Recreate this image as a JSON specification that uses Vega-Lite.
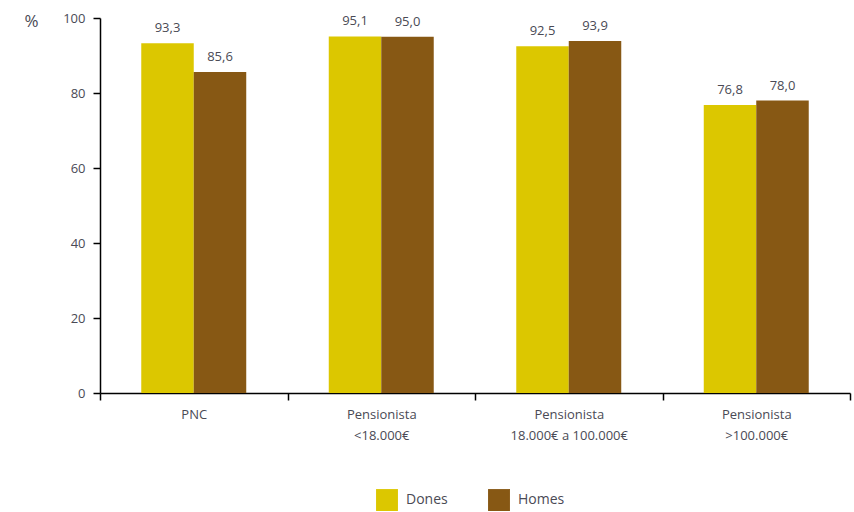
{
  "$schema": "https://vega.github.io/schema/vega-lite/v6.json",
  "width": 750,
  "height": 375,
  "autosize": {"type": "none"},
  "padding": {"left": 100, "top": 18, "right": 4, "bottom": 119},
  "background": "white",
  "config": {
    "view": {"stroke": null},
    "font": "Open Sans",
    "locale": {"number": {"decimal": ",", "thousands": ".", "grouping": [3], "currency": ["", "€"]}}
  },
  "data": {
    "values": [
      {"cat": "PNC", "sexe": "Dones", "valor": 93.3},
      {"cat": "PNC", "sexe": "Homes", "valor": 85.6},
      {"cat": "Pensionista|<18.000€", "sexe": "Dones", "valor": 95.1},
      {"cat": "Pensionista|<18.000€", "sexe": "Homes", "valor": 95.0},
      {"cat": "Pensionista|18.000€ a 100.000€", "sexe": "Dones", "valor": 92.5},
      {"cat": "Pensionista|18.000€ a 100.000€", "sexe": "Homes", "valor": 93.9},
      {"cat": "Pensionista|>100.000€", "sexe": "Dones", "valor": 76.8},
      {"cat": "Pensionista|>100.000€", "sexe": "Homes", "valor": 78.0}
    ]
  },
  "encoding": {
    "x": {
      "field": "cat", "type": "nominal", "sort": null,
      "scale": {"paddingInner": 0, "paddingOuter": 0},
      "axis": {
        "title": null, "labelAngle": 0, "domainColor": "#000", "domainWidth": 1.5,
        "tickColor": "#000", "tickWidth": 1.5, "tickSize": 7, "tickBand": "extent",
        "labelExpr": "split(datum.label, '|')", "labelFontSize": 13, "labelColor": "#4a4a55",
        "labelPadding": 8, "labelLineHeight": 21, "labelBaseline": "top"
      }
    },
    "xOffset": {"field": "sexe", "type": "nominal", "scale": {"paddingInner": 0, "paddingOuter": 0.786}},
    "y": {
      "field": "valor", "type": "quantitative",
      "scale": {"domain": [0, 100], "nice": false},
      "axis": {
        "title": "%", "titleAngle": 0, "titleX": -76, "titleY": 3, "titleAlign": "left",
        "titleBaseline": "middle", "titleFontSize": 17, "titleFontWeight": "normal", "titleColor": "#4a4a55",
        "values": [0, 20, 40, 60, 80, 100], "grid": false, "domainColor": "#000", "domainWidth": 1.5,
        "tickColor": "#000", "tickWidth": 1.5, "tickSize": 7, "labelFontSize": 13, "labelColor": "#4a4a55",
        "labelPadding": 8
      }
    }
  },
  "layer": [
    {
      "mark": {"type": "bar", "stroke": null},
      "encoding": {
        "color": {
          "field": "sexe", "type": "nominal",
          "scale": {"domain": ["Dones", "Homes"], "range": ["#DCC700", "#875814"]},
          "legend": {
            "title": null, "orient": "none", "legendX": 276, "legendY": 471,
            "direction": "horizontal", "symbolType": "square",
            "symbolSize": 480, "symbolStrokeWidth": 0, "labelFontSize": 14, "labelColor": "#4a4a55",
            "labelOffset": 8, "columnPadding": 40, "symbolOpacity": 1
          }
        }
      }
    },
    {
      "mark": {"type": "text", "baseline": "bottom", "dy": -8, "fontSize": 13, "color": "#4a4a55"},
      "encoding": {
        "text": {"field": "valor", "type": "quantitative", "format": ".1f"}
      }
    }
  ]
}
